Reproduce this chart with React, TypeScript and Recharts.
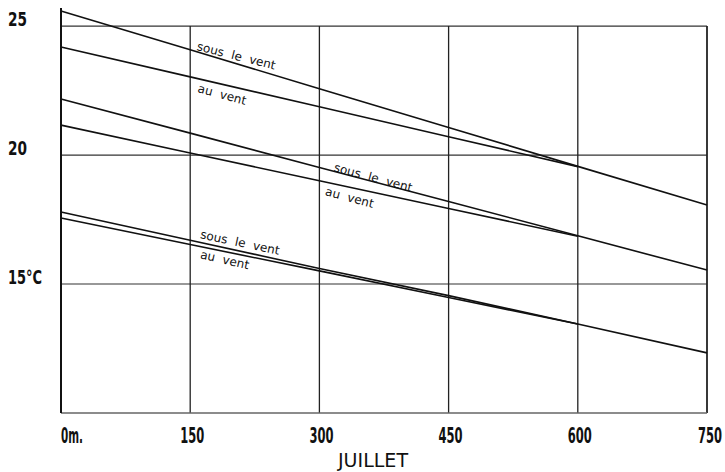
import React from 'react';
import { LineChart, Line, XAxis, YAxis, ReferenceLine, ReferenceDot, Label } from 'recharts';

// altitude (m) along the slope
const altitudes = [0, 150, 300, 450, 600, 750];

// temperatures in °C
const hautSousLeVent = [25.58, 24.08, 22.57, 21.07, 19.56, 18.06];
const hautAuVent = [24.19, 23.03, 21.87, 20.71, 19.55, null];
const milieuSousLeVent = [22.17, 20.85, 19.52, 18.2, 16.87, 15.54];
const milieuAuVent = [21.16, 20.08, 19.0, 17.93, 16.85, null];
const basSousLeVent = [17.79, 16.7, 15.6, 14.55, 13.45, 12.33];
const basAuVent = [17.56, 16.53, 15.51, 14.48, 13.45, null];

const xTicks = [0, 150, 300, 450, 600, 750];
const yTicks = [15, 20, 25];
const yLabels: Record<number, string> = { 15: '15°C', 20: '20', 25: '25' };

// curve labels: start point in data units + rotation
const notes = [
  { x: 157, y: 24.07, text: 'sous le vent', angle: 14 },
  { x: 158, y: 22.44, text: 'au vent', angle: 15 },
  { x: 316, y: 19.38, text: 'sous le vent', angle: 15 },
  { x: 306, y: 18.45, text: 'au vent', angle: 15 },
  { x: 161, y: 16.78, text: 'sous le vent', angle: 12 },
  { x: 161, y: 16.0, text: 'au vent', angle: 13 },
];

const data = altitudes.map((x, i) => ({
  x,
  s1: hautSousLeVent[i],
  a1: hautAuVent[i],
  s2: milieuSousLeVent[i],
  a2: milieuAuVent[i],
  s3: basSousLeVent[i],
  a3: basAuVent[i],
}));

const narrow = "'DejaVu Sans Condensed', sans-serif";

// the scanned lettering is very narrow: squeeze glyphs to match
const XTick = (props: any) => {
  const { x, y, payload } = props;
  const first = payload.value === 0;
  const last = payload.value === 750;
  const anchor = first ? 'start' : last ? 'end' : 'middle';
  const tx = first ? x : last ? x + 15 : x + 2;
  return (
    <text x={tx} y={y + 22} textAnchor={anchor}
      fontFamily={narrow} fontWeight="bold" fontSize={22} fill="#111"
      textLength={first ? 22 : 24} lengthAdjust="spacingAndGlyphs">
      {first ? '0m.' : payload.value}
    </text>
  );
};

const YTick = (props: any) => {
  const { y, payload } = props;
  const label = yLabels[payload.value];
  return (
    <text x={8} y={y} textAnchor="start" fontFamily={narrow} fontWeight="bold" fontSize={19} fill="#111"
      textLength={label.length > 2 ? 34 : 19} lengthAdjust="spacingAndGlyphs">
      {label}
    </text>
  );
};

const XTitle = (props: any) => {
  const { viewBox } = props;
  return (
    <text x={viewBox.x + viewBox.width / 2 - 11} y={viewBox.y + viewBox.height - 5} textAnchor="middle"
      fontFamily={narrow} fontSize={20} fill="#111" textLength={70} lengthAdjust="spacingAndGlyphs">
      JUILLET
    </text>
  );
};

const series = ['s1', 'a1', 's2', 'a2', 's3', 'a3'];

export default function App() {
  return (
    <div style={{ position: 'absolute', left: 0, top: 0, background: '#fff' }}>
      <LineChart width={725} height={472} data={data} margin={{ top: 8, right: 18, bottom: 0, left: 0 }}>
        <XAxis type="number" dataKey="x" domain={[0, 750]} ticks={xTicks} tickLine={false}
          axisLine={{ stroke: '#666', strokeWidth: 1.5 }} height={59} tick={<XTick />}>
          <Label content={<XTitle />} />
        </XAxis>
        <YAxis type="number" domain={[10, 25.7]} ticks={yTicks} tickLine={false} width={61}
          axisLine={{ stroke: '#111', strokeWidth: 2 }} tick={<YTick />} allowDataOverflow />
        {yTicks.map((v) => (
          <ReferenceLine key={'h' + v} y={v} stroke="#333" strokeWidth={1.2} />
        ))}
        {xTicks.slice(1).map((v) => (
          <ReferenceLine key={'v' + v} segment={[{ x: v, y: 10 }, { x: v, y: 25 }]}
            stroke="#222" strokeWidth={v === 750 ? 1.8 : 1.3} />
        ))}
        {series.map((k) => (
          <Line key={k} type="linear" dataKey={k} stroke="#111" strokeWidth={1.6} dot={false}
            isAnimationActive={false} connectNulls={false} />
        ))}
        {notes.map((n, i) => (
          <ReferenceDot key={'n' + i} x={n.x} y={n.y} r={0}
            shape={(p: any) => (
              <text x={p.cx} y={p.cy} transform={`rotate(${n.angle}, ${p.cx}, ${p.cy})`}
                fontFamily="'DejaVu Sans', sans-serif" fontSize={12} wordSpacing={4} fill="#111">
                {n.text}
              </text>
            )} />
        ))}
      </LineChart>
    </div>
  );
}
